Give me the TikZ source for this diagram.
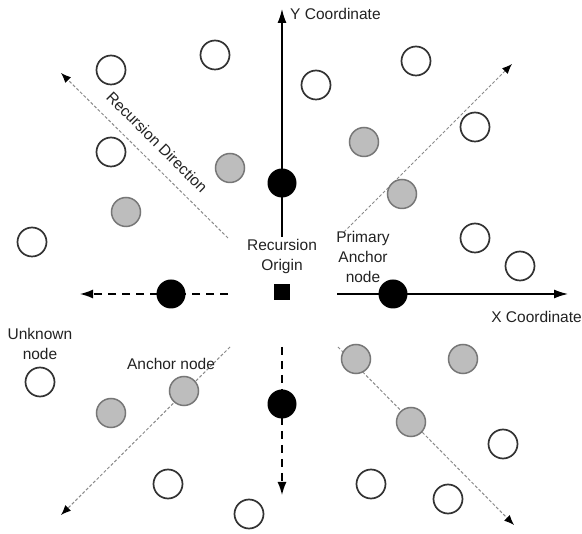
\documentclass[tikz,border=0pt]{standalone}
\usepackage{fontspec}
\setmainfont{Liberation Sans}
\usetikzlibrary{arrows.meta}
\definecolor{ringc}{HTML}{333333}
\definecolor{grayfill}{HTML}{BDBDBD}
\definecolor{graystroke}{HTML}{777777}
\definecolor{dotc}{HTML}{8A8A8A}
\definecolor{txt}{HTML}{222222}
\tikzset{
  unk/.style={circle,draw=ringc,fill=white,line width=1.7pt,minimum size=29pt,inner sep=0pt},
  anc/.style={circle,draw=graystroke,fill=grayfill,line width=1.5pt,minimum size=29pt,inner sep=0pt},
  prim/.style={circle,fill=black,minimum size=29pt,inner sep=0pt},
  org/.style={rectangle,fill=black,minimum size=16pt,inner sep=0pt},
  lbl/.style={text=txt,font=\fontsize{15.5}{20}\selectfont,inner sep=0pt,align=center},
  axisarrow/.style={line width=1.4pt,-{Latex[length=14pt,width=9pt]}},
  dasharrow/.style={line width=1.4pt,dash pattern=on 8pt off 6pt,-{Latex[length=13pt,width=9pt]}},
  dotarrow/.style={dotc,line width=1pt,dash pattern=on 3pt off 2pt,-{Latex[length=10pt,width=8pt,black]}},
}
\begin{document}
\begin{tikzpicture}[x=1pt,y=-1pt]
\useasboundingbox (0,0) rectangle (582,534);
% coordinates for connectors
\coordinate (ya) at (282,237);
\coordinate (yb) at (282,9);
\coordinate (xa) at (337,294);
\coordinate (xb) at (568,294);
\coordinate (la) at (228,294);
\coordinate (lb) at (80,294);
\coordinate (da) at (282,347);
\coordinate (db) at (282,495);
\coordinate (ula) at (228,238);
\coordinate (ulb) at (61,73);
\coordinate (ura) at (344,232);
\coordinate (urb) at (512,64);
\coordinate (lla) at (230,347);
\coordinate (llb) at (61,515);
\coordinate (lra) at (338,347);
\coordinate (lrb) at (514,525);
% dotted recursion directions
\draw[dotarrow] (ula) -- (ulb);
\draw[dotarrow] (ura) -- (urb);
\draw[dotarrow] (lla) -- (llb);
\draw[dotarrow] (lra) -- (lrb);
% axes
\draw[axisarrow] (ya) -- (yb);
\draw[axisarrow] (xa) -- (xb);
\draw[dasharrow] (la) -- (lb);
\draw[dasharrow] (da) -- (db);
% unknown nodes
\node[unk] (u1) at (111,70) {};
\node[unk] (u2) at (215,55) {};
\node[unk] (u3) at (111,152) {};
\node[unk] (u4) at (32,242) {};
\node[unk] (u5) at (316,85) {};
\node[unk] (u6) at (416,61) {};
\node[unk] (u7) at (475,127) {};
\node[unk] (u8) at (475,238) {};
\node[unk] (u9) at (520,266) {};
\node[unk] (u10) at (40,382) {};
\node[unk] (u11) at (168,484) {};
\node[unk] (u12) at (249,514) {};
\node[unk] (u13) at (503,444) {};
\node[unk] (u14) at (371,484) {};
\node[unk] (u15) at (448,499) {};
% anchor nodes
\node[anc] (a1) at (230,168) {};
\node[anc] (a2) at (126,212) {};
\node[anc] (a3) at (364,142) {};
\node[anc] (a4) at (402,194) {};
\node[anc] (a5) at (111,413) {};
\node[anc] (a6) at (184,391) {};
\node[anc] (a7) at (356,359) {};
\node[anc] (a8) at (463,359) {};
\node[anc] (a9) at (411,422) {};
% primary anchor nodes
\node[prim] (p1) at (282,183) {};
\node[prim] (p2) at (393,294) {};
\node[prim] (p3) at (171,294) {};
\node[prim] (p4) at (282,404) {};
% origin
\node[org] (o) at (282,292) {};
% labels
\node[lbl,anchor=west] (ty) at (290,14) {Y Coordinate};
\node[lbl,anchor=east] (tx) at (582,317) {X Coordinate};
\node[lbl,rotate=-45] (trd) at (157,142) {Recursion Direction};
\node[lbl] (tro) at (282,256) {Recursion\\Origin};
\node[lbl] (tpa) at (363,257) {Primary\\Anchor\\node};
\node[lbl] (tun) at (40,344) {Unknown\\node};
\node[lbl] (tan) at (171,364) {Anchor node};
\end{tikzpicture}
\end{document}
